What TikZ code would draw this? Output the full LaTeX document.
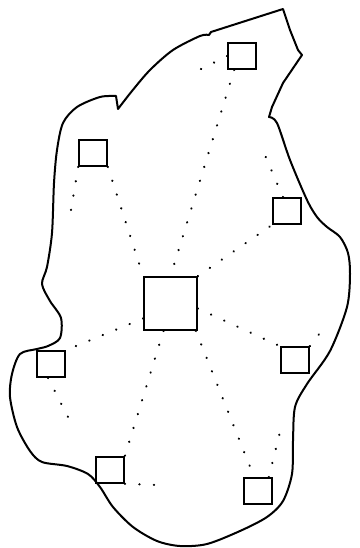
\documentclass[tikz,border=0pt]{standalone}
\usepackage{tikz}
\begin{document}
\begin{tikzpicture}[x=1pt,y=-1pt,
  bx/.style={rectangle,draw,line width=1.6pt,minimum width=28pt,minimum height=26pt,inner sep=0pt},
  big/.style={bx,minimum width=53pt,minimum height=53pt},
  dl/.style={line width=2.2pt,line cap=round,dash pattern=on 0.3pt off 14.2pt},
  rim/.style={line width=2pt,line join=round}]
  \useasboundingbox (0,0) rectangle (359,548);
  % outline
  \draw[rim] (283,9) -- (211,32) -- (209,35)
    -- plot[smooth] coordinates {(209,35) (200,36) (173,50) (150,70) (132,91) (118,109)} -- (116,96)
    -- plot[smooth] coordinates {(116,96) (100,97) (77,107) (63,123) (57,150) (54,183) (52,233) (47,267) (42,284) (50,301) (61,318) (60,338) (48,346) (37,349) (20,354) (12,374) (10,397) (17,427) (30,451) (42,462) (67,466) (88,474) (100,487) (113,507) (133,527) (157,541) (180,546) (207,544) (240,531) (267,517) (283,501) (292,474) (293,441) (295,407) (307,384) (330,351) (347,307) (350,274) (348,253) (340,237) (327,227) (317,217) (307,200) (290,160) (277,123) (269,117)}
    -- (272,107) -- (283,83) -- (302,55) -- (298,50) -- (290,30) -- cycle;
  % boxes
  \node[bx](t) at (242,56){};
  \node[bx](ul) at (93,153){};
  \node[bx](ur) at (287,211){};
  \node[big](c) at (170.5,303.5){};
  \node[bx](ll) at (51,364){};
  \node[bx](lr) at (295,360){};
  \node[bx](bl) at (110,470){};
  \node[bx](br) at (258,491){};
  % loose ends
  \coordinate(ts) at (197,71);
  \coordinate(uls) at (70,216);
  \coordinate(urs) at (264,153);
  \coordinate(lrs) at (323,329);
  \coordinate(lls) at (70,421);
  \coordinate(bls) at (158,485);
  \coordinate(brs) at (280,432);
  % links
  \draw[dl]([xshift=7pt]t.south west)--(c.north);
  \draw[dl](t.west)--(ts);
  \draw[dl](ul.south west)--(uls);
  \draw[dl](ul.south east)--(c.north west);
  \draw[dl]([xshift=-4pt]ur.north)--(urs);
  \draw[dl](c.north east)--(ur.south west);
  \draw[dl]([yshift=-5pt]c.east)--(lr.north west);
  \draw[dl](lr.north east)--(lrs);
  \draw[dl]([yshift=-15pt]c.west)--(ll.north east);
  \draw[dl]([xshift=-3pt]ll.south)--(lls);
  \draw[dl]([xshift=-7pt]c.south)--(bl.north east);
  \draw[dl](bl.south east)--(bls);
  \draw[dl]([xshift=-2pt]c.south east)--([xshift=11pt]br.north west);
  \draw[dl]([xshift=-4pt]br.north east)--(brs);
\end{tikzpicture}
\end{document}
